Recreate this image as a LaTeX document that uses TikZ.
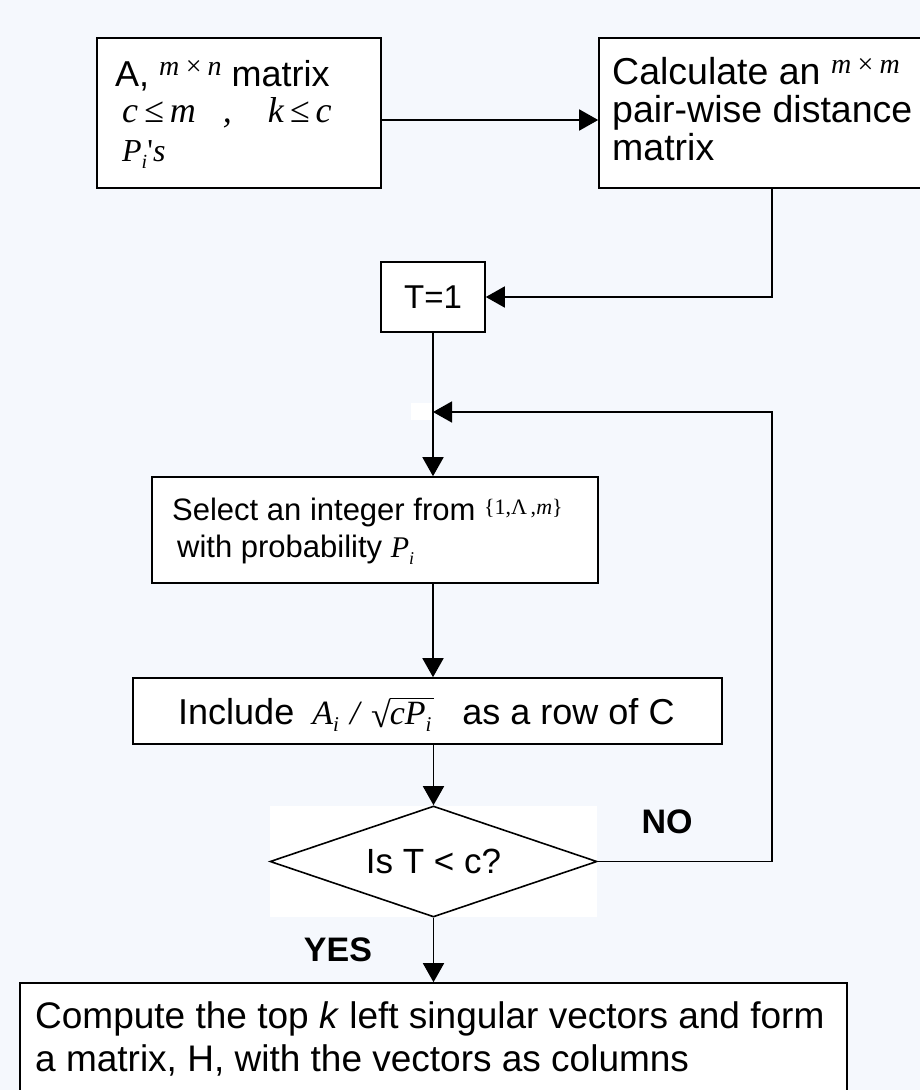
\documentclass[tikz,border=0pt]{standalone}
\usepackage{fontspec}
\setmainfont{Liberation Sans}
\newfontfamily\tms{Liberation Serif}
\usetikzlibrary{shapes.geometric,arrows.meta}
\definecolor{bgc}{RGB}{245,248,253}
\newcommand{\mth}[2]{{\tms\fontsize{#1}{#1}\selectfont\itshape #2}}
\newcommand{\subi}[1]{\raisebox{-7pt}{\fontsize{#1}{#1}\selectfont i}}
\newcommand{\myrad}[1]{{\upshape\fontsize{36}{36}\selectfont\raisebox{-3pt}{√}}\kern-1pt\vbox{\hrule height 1.1pt\kern 3pt\hbox{#1}}}
\begin{document}
\begin{tikzpicture}[x=1pt,y=-1pt,
  box/.style={draw=black,fill=white,line width=1.6pt,rectangle,inner sep=0pt},
  txt/.style={anchor=base west,inner sep=0pt,font=\fontsize{36}{36}\selectfont},
  conn/.style={line width=1.6pt,-{Triangle[length=19pt,width=21pt]}},
  lbl/.style={anchor=center,inner sep=0pt,font=\fontsize{34}{34}\selectfont\bfseries}]
\fill[bgc] (0,0) rectangle (920,1090);
\useasboundingbox (0,0) rectangle (920,1090);
% boxes
\node[box,minimum width=284pt,minimum height=150pt] (b1) at (239,113) {};
\node[box,minimum width=341pt,minimum height=150pt] (b2) at (769.5,113) {};
\node[box,minimum width=104pt,minimum height=70pt,font=\fontsize{33}{33}\selectfont] (t1) at (433,297) {T=1};
\node[box,minimum width=446pt,minimum height=106pt] (sel) at (375,530) {};
\node[box,minimum width=589pt,minimum height=66pt] (inc) at (427.5,711) {};
\fill[white] (270,806) rectangle (597,917);
\node[draw=black,line width=1.6pt,diamond,inner sep=0pt,minimum width=327pt,minimum height=111pt,aspect=2.95,font=\fontsize{35}{35}\selectfont] (dia) at (433.5,861.5) {Is T < c?};
\node[box,minimum width=827pt,minimum height=130pt] (cmp) at (433.5,1048) {};
% texts
\node[txt] (b1l1) at (115,86) {A, \raisebox{11pt}{\mth{28}{m\,×\,n}} matrix};
\node[txt] (b1l2) at (122,122) {\mth{36}{c\,≤\,m\enspace\ ,\enspace\ \ k\,≤\,c}};
\node[txt] (b1l3) at (122,161) {\mth{32}{P\subi{20}\upshape'\itshape s}};
\node[txt,font=\fontsize{37.5}{37.5}\selectfont] (b2l1) at (612,84) {Calculate an \raisebox{11pt}{\mth{28}{m\,×\,m}}};
\node[txt,font=\fontsize{37.5}{37.5}\selectfont] (b2l2) at (612,122) {pair-wise distance};
\node[txt,font=\fontsize{37.5}{37.5}\selectfont] (b2l3) at (612,160) {matrix};
\node[txt,font=\fontsize{31}{31}\selectfont] (s1) at (172,520) {Select an integer from \raisebox{6pt}{\tms\fontsize{22}{22}\selectfont\{1,Λ\,,\textit{m}\}}};
\node[txt,font=\fontsize{31}{31}\selectfont] (s2) at (177,557) {with probability \mth{30}{P\subi{18}}};
\node[txt] (i1) at (178,724) {Include\enspace\mth{34}{A\subi{21}\,\,/\,\,\myrad{cP\subi{21}\kern3pt}}\enspace\ as a row of C};
\node[txt,font=\fontsize{37}{37}\selectfont] (c1) at (35,1028) {Compute the top \textit{k} left singular vectors and form};
\node[txt,font=\fontsize{37}{37}\selectfont] (c2) at (35,1071) {a matrix, H, with the vectors as columns};
\node[lbl] (no) at (667,822) {NO};
\node[lbl] (yes) at (338,950) {YES};
% connectors
\coordinate (k1) at (772,300);
\coordinate (k2) at (772,412);
\draw[conn] ([yshift=-7pt]b1.east) -- ([yshift=-7pt]b1.east -| b2.west);
\draw[conn] (b2.south -| k1) |- (t1.east);
\fill[white] (411,403) rectangle (433,420);
\draw[conn] (t1.south) -- (sel.north -| t1.south);
\draw[conn] (dia.east) -| (k2) -- (k2 -| t1.south);
\draw[conn] (sel.south -| t1.south) -- (inc.north -| t1.south);
\draw[conn] (inc.south -| dia.north) -- (dia.north);
\draw[conn] (dia.south) -- (dia.south |- cmp.north);
\end{tikzpicture}
\end{document}
